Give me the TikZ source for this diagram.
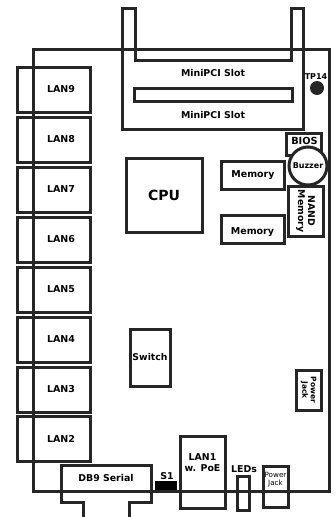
\documentclass[tikz,border=0pt]{standalone}
\usepackage{fontspec}
\setmainfont{DejaVu Sans}
\definecolor{linecol}{HTML}{262626}
\begin{document}
\begin{tikzpicture}
            [x=1pt,y=-1pt,line width=3pt,draw=linecol,
             main/.style = {draw=linecol,rectangle,inner sep=0pt,align=center,font=\bfseries\fontsize{9.5}{11}\selectfont},
             lan/.style = {main,minimum width=73,minimum height=45},
             memory/.style = {main,minimum width=63,minimum height=28},
             label/.style = {inner sep=0pt,align=center,font=\bfseries\fontsize{9.4}{11}\selectfont}]
            \useasboundingbox (0,0) rectangle (336,517);
            \node[main,minimum width=296,minimum height=442] (Board) at (181,270) {};

            \node[lan] (LAN9) at (53.5,89.5) {\hspace*{15pt}LAN9};
            \node[lan] (LAN8) at (53.5,139.5) {\hspace*{15pt}LAN8};
            \node[lan] (LAN7) at (53.5,189.5) {\hspace*{15pt}LAN7};
            \node[lan] (LAN6) at (53.5,239.5) {\hspace*{15pt}LAN6};
            \node[lan] (LAN5) at (53.5,289.5) {\hspace*{15pt}LAN5};
            \node[lan] (LAN4) at (53.5,339.5) {\hspace*{15pt}LAN4};
            \node[lan] (LAN3) at (53.5,389.5) {\hspace*{15pt}LAN3};
            \node[lan] (LAN2) at (53.5,438.5) {\hspace*{15pt}LAN2};

            % slot outline with the two tabs
            \draw (122,129) -- (122,8) -- (135,8) -- (135,60) -- (291,60) -- (291,8) -- (303,8) -- (303,129) -- cycle;
            \node[main,minimum width=158,minimum height=13] (SlotGap) at (213,94.5) {};
            \node[label] (SlotTop) at (213,73) {MiniPCI Slot};
            \node[label] (SlotBottom) at (213,115) {MiniPCI Slot};

            \node[circle,fill=linecol,draw=none,minimum size=14,inner sep=0pt] (TP14) at (317,88) {};
            \node[label,font=\bfseries\fontsize{8}{9}\selectfont] (TP14Label) at (316,77) {TP14};

            \node[main,minimum width=35,minimum height=22] (BIOS) at (303.5,144) {};
            \node[label,font=\bfseries\fontsize{9.8}{11}\selectfont] (BIOSLabel) at (304.5,141) {BIOS};
            \node[main,circle,fill=white,minimum size=38,font=\bfseries\fontsize{8}{9}\selectfont] (Buzzer) at (308,166) {Buzzer};
            \node[main,rotate=-90,minimum width=50,minimum height=35,font=\bfseries\fontsize{9.3}{10}\selectfont] (NAND) at (305.5,211) {NAND\\Memory};
            \node[main,minimum width=76,minimum height=74,font=\bfseries\fontsize{14}{16}\selectfont] (CPU) at (164,195) {CPU};
            \node[memory] (MemoryA) at (253,175) {Memory};
            \node[memory] (MemoryB) at (252.5,229.5) {};
            \node[label,font=\bfseries\fontsize{9.5}{11}\selectfont] (MemoryBLabel) at (252.5,232) {Memory};
            \node[main,minimum width=40,minimum height=57,font=\bfseries\fontsize{9.3}{11}\selectfont] (Switch) at (150,357.5) {Switch};
            \node[main,rotate=-90,minimum width=40,minimum height=25,font=\bfseries\fontsize{7.5}{8.5}\selectfont] (PowerSide) at (308.5,390) {Power\\Jack};

            % serial connector hangs off the board
            \draw (83,517) -- (83,502) -- (61,502) -- (61,465) -- (151,465) -- (151,502) -- (129,502) -- (129,517);
            \node[label] (DB9) at (106,478) {DB9 Serial};
            \node[rectangle,fill=black,draw=none,minimum width=22,minimum height=9,inner sep=0pt] (S1) at (166,485.5) {};
            \node[label] (S1Label) at (167,476) {S1};
            \node[main,minimum width=45,minimum height=72,anchor=north] (LAN1) at (202.5,435) {};
            \node[label] (LAN1Label) at (202.5,463) {LAN1\\w. PoE};
            \node[main,minimum width=12,minimum height=34] (LEDs) at (243,493) {};
            \node[label] (LEDsLabel) at (244,469) {LEDs};
            \node[main,minimum width=25,minimum height=41] (PowerBottom) at (275.5,486.5) {};
            \node[label,font=\fontsize{7.2}{7.8}\selectfont] (PowerBottomLabel) at (275.5,479.5) {Power\\Jack};
        \end{tikzpicture}
\end{document}
